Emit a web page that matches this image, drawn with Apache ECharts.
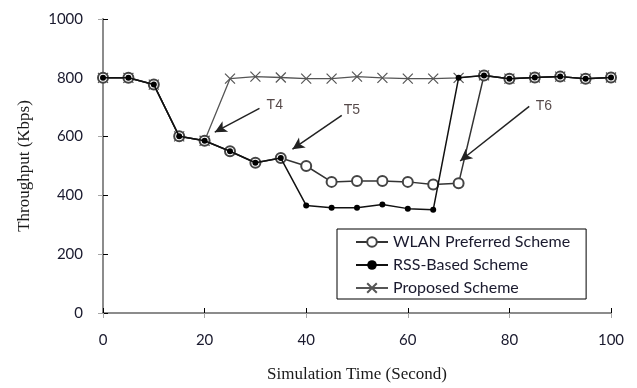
<!DOCTYPE html>
<html>
<head>
<meta charset="utf-8">
<script src="https://cdn.jsdelivr.net/npm/echarts@6/dist/echarts.min.js"></script>
<style>
  html, body { margin: 0; padding: 0; background: #fff; }
  #chart { width: 637px; height: 388px; }
</style>
</head>
<body>
<div id="chart"></div>
<script>
// simulation time (s)
var times = [0, 5, 10, 15, 20, 25, 30, 35, 40, 45, 50, 55, 60, 65, 70, 75, 80, 85, 90, 95, 100];

// throughput (Kbps)
var wlanPreferred = [800, 800, 777, 601, 586, 550, 511, 527, 500, 446, 449, 449, 446, 437, 441, 808, 797, 801, 804, 797, 801];
var rssBased = [800, 800, 777, 601, 586, 550, 511, 527, 366, 358, 358, 369, 355, 351, 800, 808, 797, 801, 804, 797, 801];
var proposed = [800, 800, 777, 601, 586, 797, 804, 801, 797, 797, 804, 800, 797, 797, 800, 808, 797, 801, 804, 797, 801];

var seriesNames = ['WLAN Preferred Scheme', 'RSS-Based Scheme', 'Proposed Scheme'];

var xTicks = [0, 20, 40, 60, 80, 100];
var yTicks = [0, 200, 400, 600, 800, 1000];

// annotations (data coords)
var arrowLabels = ['T4', 'T5', 'T6'];
var arrowFrom = [[30.8, 696], [47.0, 672], [83.9, 703]];
var arrowTo = [[22.0, 615], [37.3, 557], [70.3, 517]];
var labelAt = [[32.2, 708], [47.4, 690], [85.2, 704]];

function pairs(xs, ys) {
  var out = [];
  for (var i = 0; i < xs.length; i++) {
    out.push([xs[i], ys[i]]);
  }
  return out;
}

var chart = echarts.init(document.getElementById('chart'));

var arrowLines = [];
for (var i = 0; i < arrowFrom.length; i++) {
  arrowLines.push([{ coord: arrowFrom[i] }, { coord: arrowTo[i] }]);
}

var labelData = [];
for (var i = 0; i < labelAt.length; i++) {
  labelData.push({ name: arrowLabels[i], value: labelAt[i] });
}

var crossPath = 'path://M0,0L10,10M10,0L0,10';

var option = {
  animation: false,
  backgroundColor: '#fff',
  grid: {
    left: 103,
    right: 26,
    top: 19,
    bottom: 72
  },
  legend: {
    data: seriesNames,
    orient: 'vertical',
    left: 337,
    top: 229,
    padding: [5, 16, 3, 18],
    itemGap: 7,
    itemWidth: 32,
    itemHeight: 12,
    backgroundColor: '#fff',
    borderColor: '#000',
    borderWidth: 1,
    borderRadius: 0,
    textStyle: {
      fontFamily: 'Lato',
      fontSize: 16,
      color: '#1a1a2e'
    }
  },
  xAxis: [{
    type: 'value',
    min: 0,
    max: 100,
    interval: 20,
    name: 'Simulation Time (Second)',
    nameLocation: 'middle',
    nameGap: 53,
    nameTextStyle: {
      fontFamily: 'Liberation Serif',
      fontSize: 17,
      color: '#1a1a1a'
    },
    axisLine: { lineStyle: { color: '#000', width: 1.5 } },
    axisTick: { inside: true, length: 5, lineStyle: { color: '#000' } },
    axisLabel: {
      margin: 20,
      fontFamily: 'Lato',
      fontSize: 15,
      color: '#1a1a2e',
      formatter: function(v) { return xTicks.indexOf(v) >= 0 ? String(v) : ''; }
    },
    splitLine: { show: false }
  }, {
    type: 'value',
    position: 'top',
    min: 0,
    max: 100,
    interval: 20,
    axisLine: { lineStyle: { color: '#a6a6a6', width: 1.5 } },
    axisTick: { inside: true, length: 5, lineStyle: { color: '#a6a6a6' } },
    axisLabel: { show: false },
    splitLine: { show: false }
  }],
  yAxis: [{
    type: 'value',
    min: 0,
    max: 1000,
    interval: 200,
    name: 'Throughput (Kbps)',
    nameLocation: 'middle',
    nameGap: 70,
    nameTextStyle: {
      fontFamily: 'Liberation Serif',
      fontSize: 17,
      color: '#1a1a1a'
    },
    axisLine: { show: true, lineStyle: { color: '#000', width: 1.5 } },
    axisTick: { show: true, inside: true, length: 5, lineStyle: { color: '#000' } },
    axisLabel: {
      margin: 20,
      fontFamily: 'Lato',
      fontSize: 15,
      color: '#1a1a2e',
      formatter: function(v) { return yTicks.indexOf(v) >= 0 ? String(v) : ''; }
    },
    splitLine: { show: false }
  }, {
    type: 'value',
    position: 'right',
    min: 0,
    max: 1000,
    interval: 200,
    axisLine: { show: true, lineStyle: { color: '#a6a6a6', width: 1.5 } },
    axisTick: { show: true, inside: true, length: 5, lineStyle: { color: '#a6a6a6' } },
    axisLabel: { show: false },
    splitLine: { show: false }
  }],
  series: [{
    name: seriesNames[0],
    type: 'line',
    data: pairs(times, wlanPreferred),
    symbol: 'emptyCircle',
    symbolSize: 10,
    showAllSymbol: true,
    lineStyle: { color: '#333', width: 1.5 },
    itemStyle: { color: '#444', borderColor: '#444', borderWidth: 1.3 },
    z: 3
  }, {
    name: seriesNames[1],
    type: 'line',
    data: pairs(times, rssBased),
    symbol: 'circle',
    symbolSize: 6,
    showAllSymbol: true,
    lineStyle: { color: '#111', width: 1.5 },
    itemStyle: { color: '#000' },
    z: 4
  }, {
    name: seriesNames[2],
    type: 'line',
    data: pairs(times, proposed),
    symbol: crossPath,
    symbolSize: 10,
    showAllSymbol: true,
    lineStyle: { color: '#555', width: 1.3 },
    itemStyle: { color: '#555', borderColor: '#555', borderWidth: 1.2 },
    z: 2,
    markLine: {
      silent: true,
      symbol: ['none', 'arrow'],
      symbolSize: [9, 12],
      label: { show: false },
      lineStyle: { color: '#222', width: 1.5, type: 'solid' },
      data: arrowLines
    }
  }, {
    name: 'labels',
    type: 'scatter',
    data: labelData,
    symbolSize: 0,
    silent: true,
    label: {
      show: true,
      position: 'right',
      distance: 0,
      formatter: '{b}',
      fontFamily: 'Liberation Sans',
      fontSize: 14,
      color: '#2a1a1a'
    }
  }]
};

chart.setOption(option);
</script>
</body>
</html>
